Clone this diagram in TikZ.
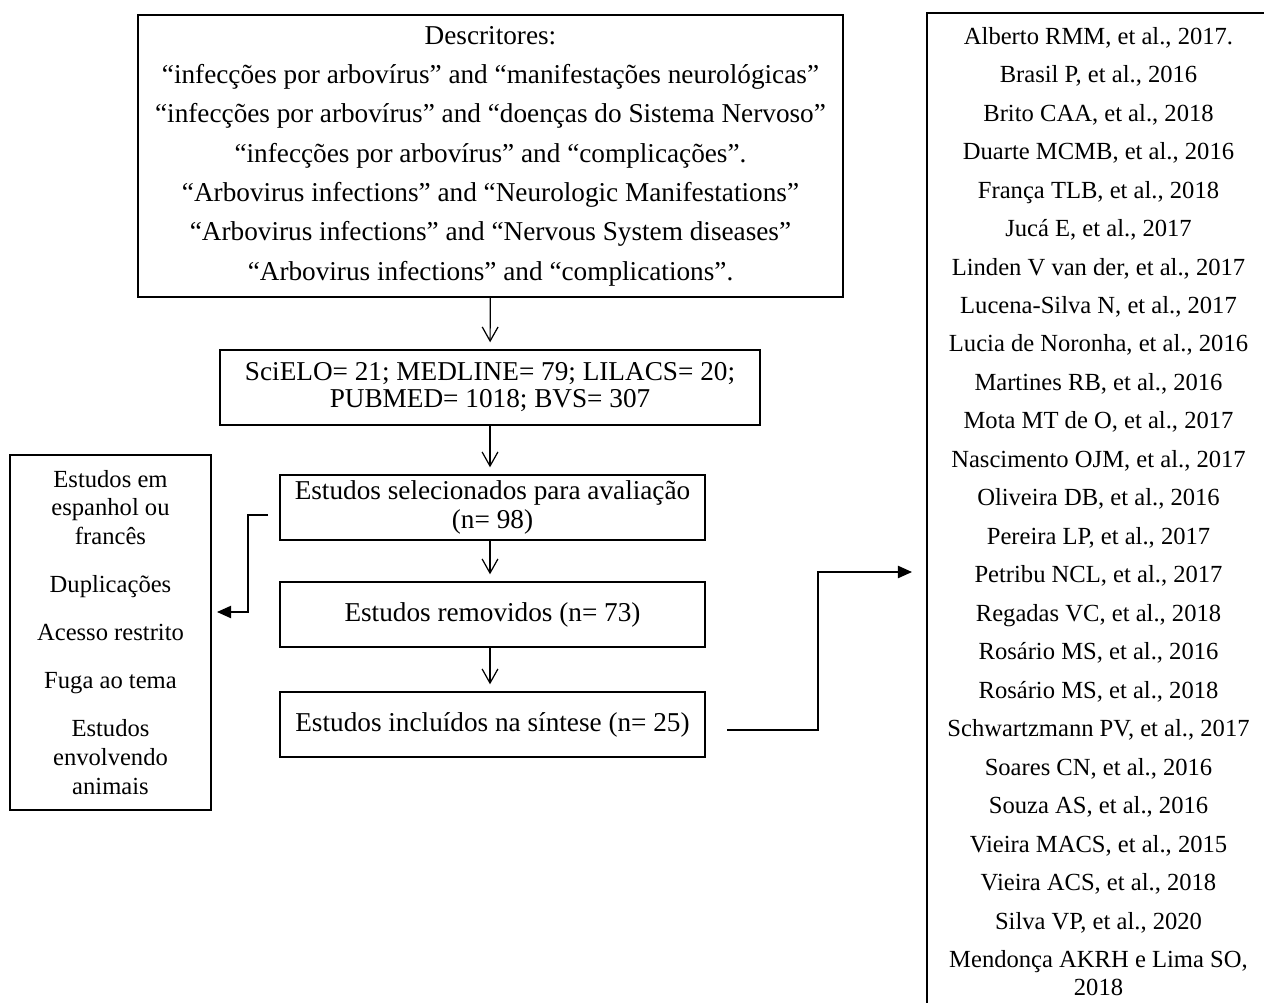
\documentclass[tikz,border=0pt]{standalone}
\usepackage{fontspec}
\setmainfont{Liberation Serif}
\usetikzlibrary{arrows.meta}
\usetikzlibrary{positioning}

\begin{document}
\begin{tikzpicture}[x=0.02cm,y=-0.02cm]
	\tikzset{box/.style = {shape=rectangle,draw,line width=0.8pt,align=center,
			inner sep=0pt,font=\fontsize{15.5}{16}\selectfont}}
	\tikzset{edge/.style = {-{Straight Barb[length=8pt,width=9pt]},line width=0.7pt,
			shorten >=4pt}}
	\tikzset{edgeF/.style = {-{Triangle[length=8pt,width=7pt]},line width=0.7pt}}
	\useasboundingbox (0,0) rectangle (1264,1003);
	
	% boxes
	\node[box,minimum width=14.1cm,minimum height=5.64cm,
	font=\fontsize{15.5}{22.4}\selectfont] (desc) at (490.5,156) {Descritores:\\
		“infecções por arbovírus” and “manifestações neurológicas”\\
		“infecções por arbovírus” and “doenças do Sistema Nervoso”\\
		“infecções por arbovírus” and “complicações”.\\
		“Arbovirus infections” and “Neurologic Manifestations”\\
		“Arbovirus infections” and “Nervous System diseases”\\
		“Arbovirus infections” and “complications”.};
	\node[box,minimum width=10.8cm,minimum height=1.5cm,
	font=\fontsize{15.5}{15.4}\selectfont] (db) at (490,387.5)
	{SciELO= 21; MEDLINE= 79; LILACS= 20;\\PUBMED= 1018; BVS= 307};
	\node[box,minimum width=8.5cm,minimum height=1.3cm] (sel) at (492.5,507.5)
	{Estudos selecionados para avaliação\\(n= 98)};
	\node[box,minimum width=8.5cm,minimum height=1.3cm] (rem) at (492.5,614.5)
	{Estudos removidos (n= 73)};
	\node[box,minimum width=8.5cm,minimum height=1.3cm] (inc) at (492.5,724.5)
	{Estudos incluídos na síntese (n= 25)};
	\node[box,minimum width=4.02cm,minimum height=7.1cm,
	font=\fontsize{14}{16.5}\selectfont] (exc) at (110.5,632.5)
	{Estudos em\\espanhol ou\\francês\\[10.8pt]Duplicações\\[10.8pt]Acesso restrito\\[10.8pt]
		Fuga ao tema\\[10.8pt]Estudos\\envolvendo\\animais};
	\node[box,minimum width=6.86cm,minimum height=19.94cm,
	font=\fontsize{14}{21.9}\selectfont] (ref) at (1098.5,511.5)
	{Alberto RMM, et al., 2017.\\
		Brasil P, et al., 2016\\
		Brito CAA, et al., 2018\\
		Duarte MCMB, et al., 2016\\
		França TLB, et al., 2018\\
		Jucá E, et al., 2017\\
		Linden V van der, et al., 2017\\
		Lucena-Silva N, et al., 2017\\
		Lucia de Noronha, et al., 2016\\
		Martines RB, et al., 2016\\
		Mota MT de O, et al., 2017\\
		Nascimento OJM, et al., 2017\\
		Oliveira DB, et al., 2016\\
		Pereira LP, et al., 2017\\
		Petribu NCL, et al., 2017\\
		Regadas VC, et al., 2018\\
		Rosário MS, et al., 2016\\
		Rosário MS, et al., 2018\\
		Schwartzmann PV, et al., 2017\\
		Soares CN, et al., 2016\\
		Souza AS, et al., 2016\\
		Vieira MACS, et al., 2015\\
		Vieira ACS, et al., 2018\\
		Silva VP, et al., 2020\\
		Mendonça AKRH e Lima SO,\\[-5.9pt]2018};
	\coordinate (selout) at (268,515);
	\coordinate (excin) at (217,612);
	\coordinate (incout) at (727,730);
	\coordinate (refin) at (912,572);
	
	%edges
	\draw[edge] (desc) to (db);
	\draw[edge] (db) to (sel.north -| db.south);
	\draw[edge] (sel.south -| db.south) to (rem.north -| db.south);
	\draw[edge] (rem.south -| db.south) to (inc.north -| db.south);
	\draw[edgeF] (selout) -- ++(-20,0) |- (excin);
	\draw[edgeF] (incout) -- ++(91,0) |- (refin);
	
\end{tikzpicture}
\end{document}
